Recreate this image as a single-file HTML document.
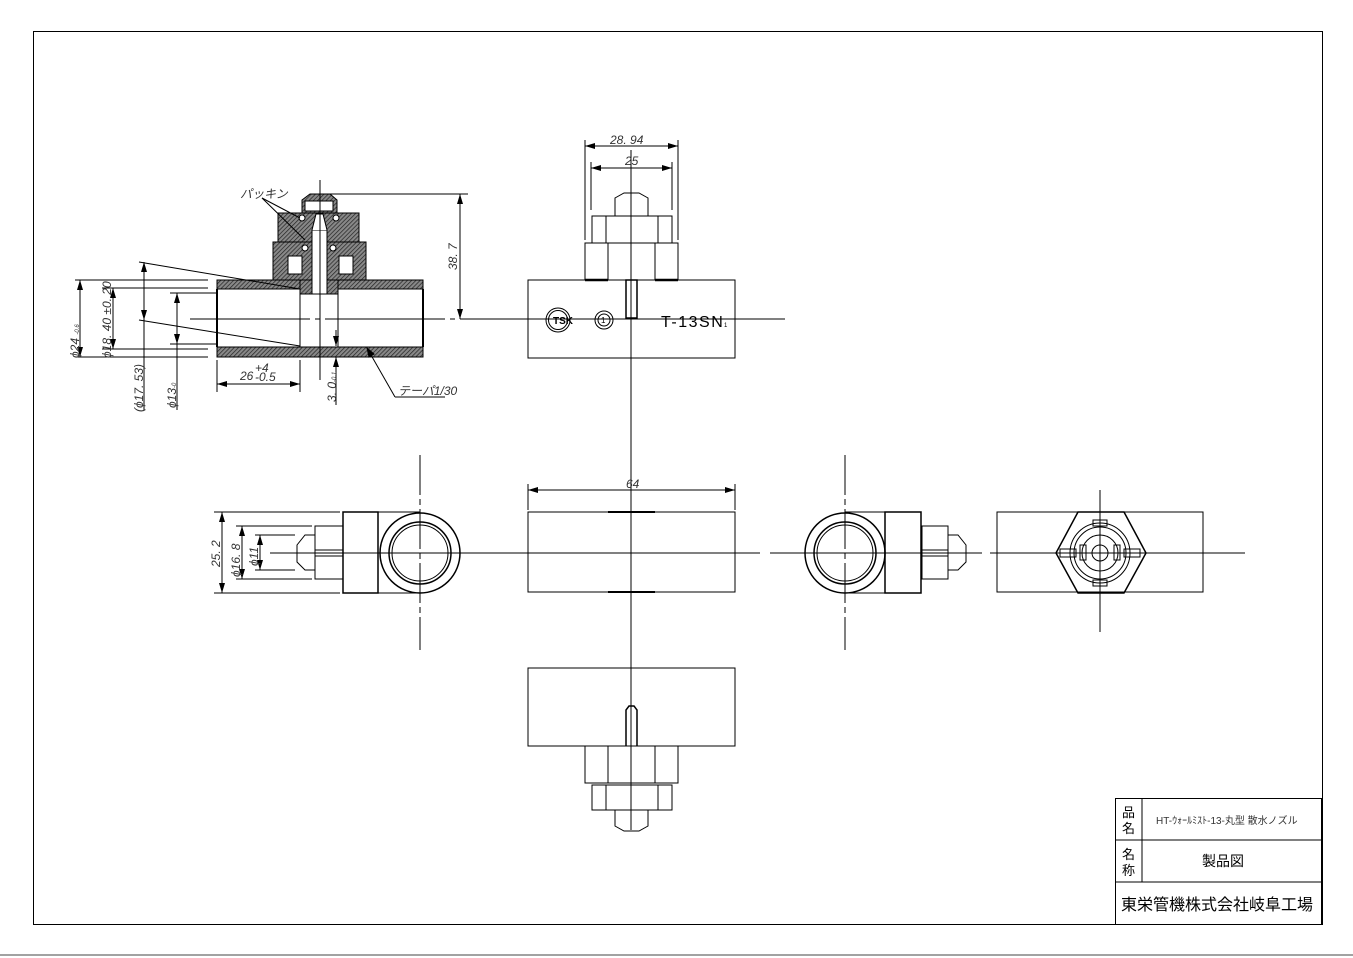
<!DOCTYPE html>
<html><head><meta charset="utf-8"><style>
html,body{margin:0;padding:0;background:#fff;}
svg{display:block;}
text{font-family:"Liberation Sans","Noto Sans CJK JP",sans-serif;}
.d{font-family:"Liberation Sans","Noto Sans CJK JP",sans-serif;font-style:italic;font-size:12px;fill:#333;}
</style></head><body>
<svg width="1353" height="958" viewBox="0 0 1353 958" xmlns="http://www.w3.org/2000/svg">
<defs>
<pattern id="h" width="3" height="3" patternUnits="userSpaceOnUse" patternTransform="rotate(45)">
<rect width="3" height="3" fill="#888"/><line x1="0" y1="0" x2="0" y2="3" stroke="#222" stroke-width="1.4"/>
</pattern>
<marker id="a" viewBox="0 0 10 6" refX="10" refY="3" markerWidth="10" markerHeight="6" orient="auto-start-reverse" markerUnits="userSpaceOnUse"><path d="M0,0L10,3L0,6z" fill="#000"/></marker>
</defs>
<rect width="1353" height="958" fill="#fff"/>
<rect x="33.5" y="31.5" width="1289" height="893" fill="none" stroke="#000" stroke-width="1"/>
<line x1="0" y1="955" x2="1353" y2="955" stroke="#444"/>

<g stroke="#000" fill="none" stroke-width="1">
<rect x="217" y="280" width="206" height="9" fill="url(#h)"/>
<rect x="217" y="347" width="206" height="10" fill="url(#h)"/>
<rect x="273" y="242" width="93" height="38" fill="url(#h)"/>
<rect x="278" y="213" width="81" height="29" fill="url(#h)"/>
<path d="M302,213 L302,200 L310,194 L330,194 L337,200 L337,213 Z" fill="url(#h)"/>
<rect x="300" y="280" width="38" height="14" fill="url(#h)"/>
<rect x="312" y="230" width="15" height="64" fill="#fff"/>
<path d="M312,230 L316,214 L323,214 L327,230" fill="#fff"/>
<rect x="288" y="256" width="14" height="18" fill="#fff"/>
<rect x="339" y="256" width="14" height="18" fill="#fff"/>
<rect x="305" y="201" width="28" height="10" fill="#fff"/>
<circle cx="302" cy="218" r="3" fill="#fff"/><circle cx="336" cy="218" r="3" fill="#fff"/>
<circle cx="305" cy="248" r="3" fill="#fff"/><circle cx="333" cy="248" r="3" fill="#fff"/>
<line x1="217" y1="289" x2="217" y2="347" stroke-width="2"/>
<line x1="423" y1="289" x2="423" y2="347" stroke-width="2"/>
<line x1="300" y1="289" x2="300" y2="347"/><line x1="338" y1="289" x2="338" y2="347"/>
<line x1="320" y1="180" x2="320" y2="380"/>
<line x1="190" y1="319" x2="540" y2="319" stroke-dasharray="120,5,5,5"/>
<line x1="330" y1="194" x2="468" y2="194"/>
<line x1="460" y1="194" x2="460" y2="319" marker-start="url(#a)" marker-end="url(#a)"/>
<line x1="75" y1="280" x2="208" y2="280"/><line x1="75" y1="357" x2="208" y2="357"/>
<line x1="80" y1="280" x2="80" y2="357" marker-start="url(#a)" marker-end="url(#a)"/>
<line x1="102" y1="288" x2="208" y2="288"/><line x1="102" y1="349" x2="208" y2="349"/>
<line x1="113" y1="288" x2="113" y2="349" marker-start="url(#a)" marker-end="url(#a)"/>
<line x1="139" y1="262" x2="300" y2="289"/><line x1="139" y1="320" x2="300" y2="346"/>
<line x1="144" y1="262" x2="144" y2="320" marker-start="url(#a)" marker-end="url(#a)"/>
<line x1="144" y1="320" x2="144" y2="410"/>
<line x1="170" y1="293" x2="217" y2="293"/><line x1="170" y1="344" x2="217" y2="344"/>
<line x1="177" y1="293" x2="177" y2="344" marker-start="url(#a)" marker-end="url(#a)"/>
<line x1="177" y1="344" x2="177" y2="410"/>
<line x1="217" y1="360" x2="217" y2="392"/><line x1="300" y1="360" x2="300" y2="392"/>
<line x1="217" y1="384" x2="300" y2="384" marker-start="url(#a)" marker-end="url(#a)"/>
<line x1="336" y1="330" x2="336" y2="346" marker-end="url(#a)"/>
<line x1="336" y1="375" x2="336" y2="357" marker-end="url(#a)"/>
<line x1="336" y1="357" x2="336" y2="405"/>
<line x1="367" y1="348" x2="395" y2="397"/><line x1="395" y1="397" x2="445" y2="397"/>
<path d="M367,348 l2,9 l5,-3 z" fill="#000"/>
<line x1="262" y1="198" x2="300" y2="218"/><line x1="262" y1="198" x2="305" y2="240"/>

<rect x="528" y="280" width="207" height="78"/>
<rect x="585" y="243" width="93" height="37"/>
<line x1="608" y1="243" x2="608" y2="280"/><line x1="655" y1="243" x2="655" y2="280"/>
<rect x="592" y="216" width="80" height="27"/>
<line x1="606" y1="216" x2="606" y2="243"/><line x1="658" y1="216" x2="658" y2="243"/>
<path d="M615,216 L615,198 L624,193 L639,193 L648,198 L648,216"/>
<line x1="585" y1="280" x2="608" y2="280" stroke-width="2.5"/><line x1="655" y1="280" x2="678" y2="280" stroke-width="2.5"/>
<rect x="626" y="280" width="11" height="38" stroke-width="1.5"/>
<line x1="585" y1="140" x2="585" y2="240"/><line x1="678" y1="140" x2="678" y2="240"/>
<line x1="585" y1="146" x2="678" y2="146" marker-start="url(#a)" marker-end="url(#a)"/>
<line x1="591" y1="162" x2="591" y2="210"/><line x1="672" y1="162" x2="672" y2="210"/>
<line x1="591" y1="168" x2="672" y2="168" marker-start="url(#a)" marker-end="url(#a)"/>
<line x1="631" y1="150" x2="631" y2="660"/>
<line x1="540" y1="319" x2="785" y2="319"/>
<circle cx="558" cy="320" r="12"/><circle cx="558" cy="320" r="9.5"/>
<circle cx="604" cy="320" r="9"/><circle cx="604" cy="320" r="6"/>

<line x1="420" y1="455" x2="420" y2="650" stroke-dasharray="40,4,6,4"/>
<line x1="270" y1="553" x2="500" y2="553"/>
<circle cx="420" cy="553" r="40" stroke-width="1.5"/>
<circle cx="420" cy="553" r="31" stroke-width="1.5"/><circle cx="420" cy="553" r="28"/>
<line x1="378" y1="512" x2="420" y2="512"/><line x1="378" y1="593" x2="420" y2="593"/>
<rect x="343" y="512" width="35" height="81" stroke-width="1.5"/>
<line x1="343" y1="553" x2="378" y2="553"/>
<rect x="315" y="526" width="28" height="53"/>
<rect x="315" y="550" width="28" height="6"/>
<path d="M315,535 L305,535 L297,545 L297,562 L305,570 L315,570"/>
<line x1="214" y1="512" x2="340" y2="512"/><line x1="214" y1="593" x2="340" y2="593"/>
<line x1="222" y1="512" x2="222" y2="593" marker-start="url(#a)" marker-end="url(#a)"/>
<line x1="236" y1="526" x2="312" y2="526"/><line x1="236" y1="579" x2="312" y2="579"/>
<line x1="242" y1="526" x2="242" y2="579" marker-start="url(#a)" marker-end="url(#a)"/>
<line x1="255" y1="535" x2="295" y2="535"/><line x1="255" y1="570" x2="295" y2="570"/>
<line x1="260" y1="535" x2="260" y2="570" marker-start="url(#a)" marker-end="url(#a)"/>
<rect x="528" y="512" width="207" height="80"/>
<line x1="608" y1="512" x2="655" y2="512" stroke-width="2"/><line x1="608" y1="592" x2="655" y2="592" stroke-width="2"/>
<line x1="480" y1="553" x2="760" y2="553"/>
<line x1="528" y1="484" x2="528" y2="510"/><line x1="735" y1="484" x2="735" y2="510"/>
<line x1="528" y1="490" x2="735" y2="490" marker-start="url(#a)" marker-end="url(#a)"/>
<line x1="845" y1="455" x2="845" y2="650" stroke-dasharray="40,4,6,4"/>
<line x1="770" y1="553" x2="982" y2="553"/>
<circle cx="845" cy="553" r="40" stroke-width="1.5"/>
<circle cx="845" cy="553" r="31" stroke-width="1.5"/><circle cx="845" cy="553" r="28"/>
<line x1="845" y1="512" x2="885" y2="512"/><line x1="845" y1="593" x2="885" y2="593"/>
<rect x="885" y="512" width="36" height="81" stroke-width="1.5"/>
<line x1="885" y1="553" x2="921" y2="553"/>
<rect x="922" y="526" width="26" height="53"/>
<rect x="922" y="550" width="26" height="6"/>
<path d="M948,535 L958,535 L966,545 L966,562 L958,570 L948,570"/>
<rect x="997" y="512" width="206" height="80"/>
<path d="M1078,512 L1124,512 L1146,553 L1124,593 L1078,593 L1056,553 Z" stroke-width="1.5"/>
<circle cx="1100" cy="553" r="30"/><circle cx="1100" cy="553" r="26"/><circle cx="1100" cy="553" r="18"/><circle cx="1100" cy="553" r="8"/>
<rect x="1060" y="549" width="16" height="8"/><rect x="1124" y="549" width="16" height="8"/>
<rect x="1080" y="545" width="6" height="15"/><rect x="1114" y="545" width="6" height="15"/>
<rect x="1093" y="520" width="14" height="6"/><rect x="1093" y="580" width="14" height="6"/>
<line x1="990" y1="553" x2="1245" y2="553"/>
<line x1="1100" y1="490" x2="1100" y2="632"/>

<rect x="528" y="668" width="207" height="78"/>
<rect x="585" y="746" width="93" height="37"/>
<line x1="608" y1="746" x2="608" y2="783"/><line x1="655" y1="746" x2="655" y2="783"/>
<rect x="592" y="785" width="80" height="25"/>
<line x1="606" y1="785" x2="606" y2="810"/><line x1="658" y1="785" x2="658" y2="810"/>
<path d="M615,810 L615,826 L624,831 L639,831 L648,826 L648,810"/>
<path d="M626,746 L626,710 L629,706 L634,706 L637,710 L637,746" stroke-width="1.5"/>
<line x1="631" y1="660" x2="631" y2="830"/>

<rect x="1115.5" y="798.5" width="206" height="126"/>
<line x1="1115" y1="840" x2="1322" y2="840"/><line x1="1115" y1="882" x2="1322" y2="882"/>
<line x1="1142" y1="798" x2="1142" y2="882"/>
</g>

<g>
<text class="d" x="610" y="144" font-size="12">28. 94</text>
<text class="d" x="625" y="165">25</text>
<text x="553" y="324" font-size="10" font-weight="bold" fill="#000">TSK</text>
<text x="601" y="323" font-size="8" fill="#000">1</text>
<text x="661" y="327" font-size="16" fill="#000" letter-spacing="1.5">T-13SN</text><text x="724" y="327" font-size="6" fill="#000">1</text>
<text class="d" x="626" y="488">64</text>
<text class="d" x="240" y="198" font-size="8">パッキン</text>
<text class="d" x="398" y="395" font-size="10">テーパ1/30</text>
<text class="d" x="240" y="380" font-size="11">26</text><text class="d" x="255" y="372" font-size="6">+4</text><text class="d" x="255" y="381" font-size="6">-0.5</text>
<text class="d" transform="translate(457,270) rotate(-90)">38. 7</text>
<text class="d" transform="translate(79,358) rotate(-90)" font-size="11">ϕ24 <tspan font-size="6">-0.6</tspan></text>
<text class="d" transform="translate(111,358) rotate(-90)" font-size="11">ϕ18. 40 ±0. 20</text>
<text class="d" transform="translate(143,412) rotate(-90)" font-size="11">(ϕ17. 53)</text>
<text class="d" transform="translate(176,408) rotate(-90)" font-size="11">ϕ13<tspan font-size="6">-0</tspan></text>
<text class="d" transform="translate(336,402) rotate(-90)" font-size="11">3. 0<tspan font-size="6">-0.1</tspan></text>
<text class="d" transform="translate(220,567) rotate(-90)" font-size="11">25. 2</text>
<text class="d" transform="translate(240,577) rotate(-90)" font-size="11">ϕ16. 8</text>
<text class="d" transform="translate(258,566) rotate(-90)" font-size="11">ϕ11</text>
<text x="1122" y="817" font-size="13" fill="#000">品</text><text x="1122" y="833" font-size="13" fill="#000">名</text>
<text x="1122" y="859" font-size="13" fill="#000">名</text><text x="1122" y="875" font-size="13" fill="#000">称</text>
<text x="1156" y="824" font-size="10" fill="#333">HT-ｳｫｰﾙﾐｽﾄ-13-丸型 散水ノズル</text>
<text x="1202" y="866" font-size="14" fill="#000">製品図</text>
<text x="1121" y="910" font-size="16" fill="#000">東栄管機株式会社岐阜工場</text>
</g>
</svg>
</body></html>
